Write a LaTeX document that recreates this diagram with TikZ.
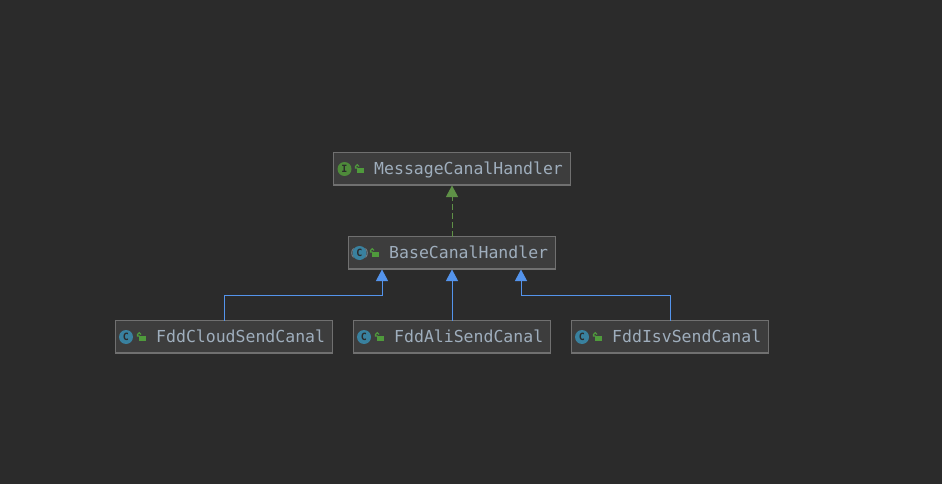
\documentclass[tikz,border=0pt]{standalone}
\usepackage{fontspec}
\setmonofont{DejaVu Sans Mono}
\usetikzlibrary{arrows.meta}
\definecolor{bgc}{HTML}{2B2B2B}
\definecolor{boxfill}{HTML}{3D3D3D}
\definecolor{boxline}{HTML}{707070}
\definecolor{namec}{HTML}{9FAEBD}
\definecolor{implc}{HTML}{5F9147}
\definecolor{extc}{HTML}{5494EC}
\definecolor{ifacec}{HTML}{4E8A3A}
\definecolor{classc}{HTML}{39819F}
\definecolor{lockc}{HTML}{4F9A3C}
\tikzset{
  x=1pt,y=-1pt,
  classbox/.style={draw=boxline,fill=boxfill,line width=1pt,minimum height=33pt,inner sep=0pt,outer sep=0pt,anchor=north west},
  classname/.style={text=namec,font=\ttfamily\fontsize{16.5}{18}\selectfont,inner sep=0pt,anchor=base west},
  badge/.style={circle,minimum size=14pt,inner sep=0pt,text=bgc,font=\ttfamily\bfseries\fontsize{10}{10}\selectfont},
  ifacebadge/.style={badge,fill=ifacec},
  classbadge/.style={badge,fill=classc},
  extends/.style={draw=extc,line width=1pt,-{Triangle[length=11.5pt,width=12pt,fill=extc]}},
  implements/.style={draw=implc,line width=1pt,dash pattern=on 6pt off 3pt,-{Triangle[length=11.5pt,width=12pt,fill=implc]}},
}
\newcommand{\lockicon}[2]{%
  \fill[lockc] (#1+1,#2-1) rectangle (#1+7.5,#2+4);
  \draw[lockc,line width=1.1pt] (#1+1.5,#2-1) -- (#1-0.5,#2-1) -- (#1-0.5,#2-2.5) arc[start angle=180,end angle=0,radius=1.8pt];
}
\begin{document}
\begin{tikzpicture}
\useasboundingbox (0,0) rectangle (942,484);
\fill[bgc] (0,0) rectangle (942,484);

% boxes
\node[classbox,minimum width=237pt] (msg) at (333.5,152.5) {};
\node[classbox,minimum width=207pt] (base) at (348.5,236.5) {};
\node[classbox,minimum width=217pt] (cloud) at (115.5,320.5) {};
\node[classbox,minimum width=197pt] (ali) at (353.5,320.5) {};
\node[classbox,minimum width=197pt] (isv) at (571.5,320.5) {};

\foreach \n in {msg,base,cloud,ali,isv}{
  \draw[boxline,line width=0.6pt] ([yshift=1.6pt]\n.south west) -- ([yshift=1.6pt]\n.south east);
}

% connector free ends
\coordinate (baseL) at (382,269.5);
\coordinate (baseM) at (452,269.5);
\coordinate (baseR) at (521,269.5);
\coordinate (cloudT) at (224.5,320.5);
\coordinate (aliT) at (452,320.5);
\coordinate (isvT) at (670.5,320.5);

\draw[implements] (base.north -| baseM) -- (msg.south -| baseM);
\draw[extends] (cloudT) -- (224.5,295.5) -- (382,295.5) -- (baseL);
\draw[extends] (aliT) -- (baseM);
\draw[extends] (isvT) -- (670.5,295.5) -- (521,295.5) -- (baseR);

% badges
\node[ifacebadge] (msgI) at (344.5,169) {I};
\node[classbadge] (baseI) at (359.5,253) {C};
\draw[namec!70!bgc,line width=0.8pt] (353.5,248.5) arc[start angle=135,end angle=225,radius=6.3pt];
\draw[namec!70!bgc,line width=0.8pt] (365.5,248.5) arc[start angle=45,end angle=-45,radius=6.3pt];
\node[classbadge] (cloudI) at (126,337) {C};
\node[classbadge] (aliI) at (364,337) {C};
\node[classbadge] (isvI) at (582,337) {C};

% visibility icons
\lockicon{356}{169}
\lockicon{371}{253}
\lockicon{138}{337}
\lockicon{376}{337}
\lockicon{594}{337}

% names
\node[classname] (msgN) at (374,174) {MessageCanalHandler};
\node[classname] (baseN) at (389,258) {BaseCanalHandler};
\node[classname] (cloudN) at (156,342) {FddCloudSendCanal};
\node[classname] (aliN) at (394,342) {FddAliSendCanal};
\node[classname] (isvN) at (612,342) {FddIsvSendCanal};
\end{tikzpicture}
\end{document}
